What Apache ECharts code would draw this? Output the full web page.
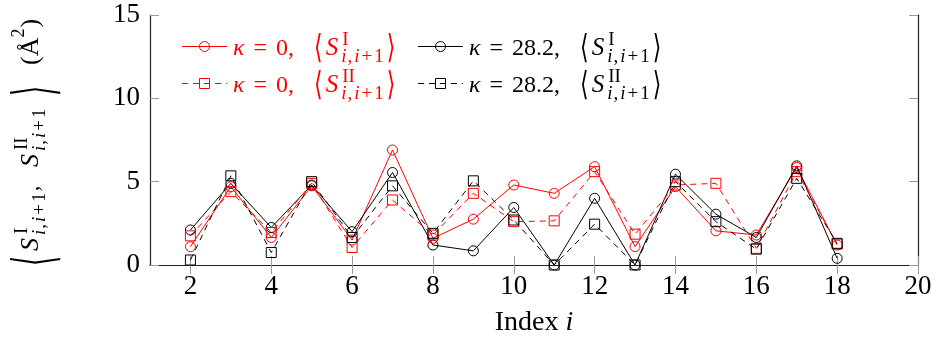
<!DOCTYPE html>
<html>
<head>
<meta charset="utf-8">
<script src="https://cdn.jsdelivr.net/npm/echarts@6/dist/echarts.min.js"></script>
<style>
  html, body { margin: 0; padding: 0; background: #fff; }
  #chart { width: 936px; height: 343px; }
</style>
</head>
<body>
<div id="chart"></div>
<script>
// Mean overlap values per site index i, for two coupling strengths
const indices = [2, 3, 4, 5, 6, 7, 8, 9, 10, 11, 12, 13, 14, 15, 16, 17, 18];
const k0_SI   = [1.1, 4.7, 1.65, 4.75, 1.5, 6.9, 1.6, 2.75, 4.8, 4.3, 5.9, 1.1, 4.7, 2.05, 1.8, 5.85, 1.2];
const k0_SII  = [1.75, 4.4, 1.95, 4.9, 1.05, 3.9, 1.8, 4.3, 2.6, 2.65, 5.6, 1.85, 4.8, 4.9, 1.0, 5.6, 1.25];
const k28_SI  = [2.1, 4.9, 2.25, 4.8, 2.0, 5.55, 1.2, 0.85, 3.45, 0.0, 4.0, 0.0, 5.45, 3.05, 1.65, 5.95, 0.4];
const k28_SII = [0.3, 5.35, 0.75, 5.0, 1.65, 4.75, 1.9, 5.05, 2.7, 0.0, 2.45, 0.0, 5.0, 2.6, 0.95, 5.2, 1.3];

const xTickValues = [2, 4, 6, 8, 10, 12, 14, 16, 18, 20];
const yTickValues = [0, 5, 10, 15];

const RED = '#ff0000';
const BLACK = '#000000';
const SERIF = 'Liberation Serif';
const BRACKET_FONT = 'DejaVu Serif';
const DASH = [6, 5];

// ---------- small math-text layout helper (text pieces, scripts, stretched brackets)
const mctx = document.createElement('canvas').getContext('2d');
function cssFont(size, italic, fam) { return (italic ? 'italic ' : 'normal ') + 'normal ' + size + 'px "' + fam + '"'; }
function measure(str, size, italic, fam) {
  mctx.font = cssFont(size, italic, fam);
  mctx.textBaseline = 'alphabetic';
  return mctx.measureText(str).width;
}
// distance from the 'middle' line to the alphabetic baseline
function middleToBaseline(size, italic, fam) {
  mctx.font = cssFont(size, italic, fam);
  mctx.textBaseline = 'alphabetic';
  const a = mctx.measureText('H').actualBoundingBoxAscent;
  mctx.textBaseline = 'middle';
  const b = mctx.measureText('H').actualBoundingBoxAscent;
  mctx.textBaseline = 'alphabetic';
  return a - b;
}
function glyphBox(ch, size, fam) {
  mctx.font = cssFont(size, false, fam);
  mctx.textBaseline = 'middle';
  const m = mctx.measureText(ch);
  mctx.textBaseline = 'alphabetic';
  return { top: -m.actualBoundingBoxAscent, bottom: m.actualBoundingBoxDescent, width: m.width };
}
function textEl(str, x, baseline, size, italic, fam, color) {
  return {
    type: 'text', silent: true, x: x, y: baseline - middleToBaseline(size, italic, fam),
    style: { text: str, font: cssFont(size, italic, fam), fill: color, align: 'left', verticalAlign: 'middle' }
  };
}
// tokens: {t, it, size} | {gap} | {at} | {br, h, c, size} | {sup:[...], sub:[...], supUp, subDown, kern}
function layoutMath(tokens, size, x0, baseline, color, out, scriptSize) {
  let x = x0;
  for (const tk of tokens) {
    if (tk.gap !== undefined) { x += tk.gap; continue; }
    if (tk.at !== undefined) { x = x0 + tk.at; continue; }
    if (tk.br) {
      const bs = tk.size || size;
      const box = glyphBox(tk.br, bs, BRACKET_FONT);
      const sy = tk.h / (box.bottom - box.top);
      const cLocal = (box.top + box.bottom) / 2;
      const centre = baseline + tk.c;
      out.push({
        type: 'text', silent: true, x: x, y: centre - sy * cLocal, scaleY: sy,
        style: { text: tk.br, font: cssFont(bs, false, BRACKET_FONT), fill: color,
                 align: 'left', verticalAlign: 'middle' }
      });
      x += box.width;
      continue;
    }
    if (tk.sup || tk.sub) {
      const ss = tk.ss || scriptSize || Math.round(size * 0.7);
      let wSup = 0, wSub = 0;
      if (tk.sup) wSup = layoutMath(tk.sup, ss, x, baseline - (tk.supUp || size * 0.42), color, out, ss) - x;
      if (tk.sub) wSub = layoutMath(tk.sub, ss, x + (tk.kern || 0), baseline + (tk.subDown || size * 0.28), color, out, ss) - x;
      x += Math.max(wSup, wSub);
      continue;
    }
    const sz = tk.size || size;
    out.push(textEl(tk.t, x, baseline, sz, !!tk.it, SERIF, color));
    x += measure(tk.t, sz, !!tk.it, SERIF);
  }
  return x;
}

const subIdx = [{ t: 'i', it: 1 }, { gap: 1 }, { t: ',', it: 0 }, { gap: 2 }, { t: 'i', it: 1 }, { gap: 2 },
                { t: '+', it: 0 }, { gap: 2 }, { t: '1', it: 0 }];

function legendLabel(kappa, roman) {
  return [
    { t: 'κ', it: 1 }, { gap: 9 }, { t: '=' }, { gap: 9 }, { t: kappa + ',' }, { gap: 20 },
    { br: '⟨', h: 30, c: -8, size: 22 }, { gap: 3 },
    { t: 'S', it: 1, size: 25 }, { gap: 4 }, { sup: [{ t: roman }], sub: subIdx, supUp: 10, subDown: 7, kern: -1 },
    { gap: 3 }, { br: '⟩', h: 30, c: -8, size: 22 }
  ];
}

const graphics = [];

// ---------- legend (two rows, two columns)
const legendEntries = [
  { x: 182, y: 55, color: RED,   symbol: 'circle', dashed: false, kappa: '0',    roman: 'I' },
  { x: 418, y: 55, color: BLACK, symbol: 'circle', dashed: false, kappa: '28.2', roman: 'I' },
  { x: 182, y: 92, color: RED,   symbol: 'rect',   dashed: true,  kappa: '0',    roman: 'II' },
  { x: 418, y: 92, color: BLACK, symbol: 'rect',   dashed: true,  kappa: '28.2', roman: 'II' }
];
for (const e of legendEntries) {
  const ly = e.y - 8.5;
  graphics.push({
    type: 'line', silent: true,
    shape: { x1: e.x, y1: ly, x2: e.x + 45, y2: ly },
    style: { stroke: e.color, lineWidth: 1, lineDash: e.dashed ? DASH : null }
  });
  if (e.symbol === 'circle') {
    graphics.push({ type: 'circle', silent: true, shape: { cx: e.x + 22.5, cy: ly, r: 5 },
      style: { fill: 'none', stroke: e.color, lineWidth: 1 } });
  } else {
    graphics.push({ type: 'rect', silent: true, shape: { x: e.x + 17.5, y: ly - 5, width: 10, height: 10 },
      style: { fill: 'none', stroke: e.color, lineWidth: 1 } });
  }
  layoutMath(legendLabel(e.kappa, e.roman), 24, e.x + 51, e.y, e.color, graphics, 19);
}

// ---------- rotated y-axis title, reading upwards along the left edge
const yTitle = [];
layoutMath([
  { br: '⟨', h: 52, c: -2, size: 26 },
  { at: 15 }, { t: 'S', it: 1, size: 26 }, { gap: 4 },
  { sup: [{ t: 'I' }], sub: subIdx, supUp: 11, subDown: 7, kern: -1 },
  { gap: 1 }, { t: ',' },
  { at: 99 }, { t: 'S', it: 1, size: 26 }, { gap: 4 },
  { sup: [{ t: 'II' }], sub: subIdx, supUp: 11, subDown: 7, kern: -1 },
  { at: 170 }, { br: '⟩', h: 52, c: -2, size: 26 },
  { at: 201 }, { t: '(', size: 26 }, { t: 'Å', size: 26 }, { sup: [{ t: '2' }], supUp: 14, ss: 18 }, { gap: 1 }, { t: ')', size: 26 }
], 24, 0, 0, BLACK, yTitle, 19);
graphics.push({ type: 'group', x: 38, y: 266, rotation: Math.PI / 2, children: yTitle, silent: true });

// ---------- series
function lineSeries(name, values, color, symbol, dashed) {
  return {
    name: name, type: 'line', clip: false,
    data: indices.map((x, i) => [x, values[i]]),
    symbol: symbol, symbolSize: 10,
    itemStyle: { color: 'rgba(0,0,0,0)', borderColor: color, borderWidth: 1 },
    lineStyle: { color: color, width: 1, type: dashed ? DASH : 'solid' },
    emphasis: { disabled: true }
  };
}

const labelFont = { fontFamily: SERIF, fontSize: 27, color: '#000' };
const tickStyle = { color: '#9a9a9a', width: 1 };
const frameLine = { show: true, lineStyle: { color: '#222', width: 1.2 } };

const option = {
  animation: false,
  backgroundColor: '#fff',
  grid: { left: 150, right: 18, top: 15, bottom: 78, containLabel: false },
  xAxis: [
    { type: 'value', min: 1, max: 20, position: 'bottom',
      axisLine: frameLine,
      axisTick: { show: true, inside: true, length: 9, customValues: xTickValues, lineStyle: tickStyle },
      axisLabel: Object.assign({ margin: 8, customValues: xTickValues }, labelFont),
      splitLine: { show: false },
      name: 'Index {i|i}', nameLocation: 'middle', nameGap: 44,
      nameTextStyle: { fontFamily: SERIF, fontSize: 28, color: '#000',
        rich: { i: { fontFamily: SERIF, fontSize: 28, fontStyle: 'italic', color: '#000' } } } },
    { type: 'value', min: 1, max: 20, position: 'top',
      axisLine: frameLine,
      axisTick: { show: true, inside: true, length: 9, customValues: xTickValues, lineStyle: tickStyle },
      axisLabel: { show: false }, splitLine: { show: false } }
  ],
  yAxis: [
    { type: 'value', min: 0, max: 15, interval: 5, position: 'left',
      axisLine: frameLine,
      axisTick: { show: true, inside: true, length: 9, lineStyle: tickStyle },
      axisLabel: Object.assign({ margin: 10, customValues: yTickValues }, labelFont),
      splitLine: { show: false } },
    { type: 'value', min: 0, max: 15, interval: 5, position: 'right',
      axisLine: frameLine,
      axisTick: { show: true, inside: true, length: 9, lineStyle: tickStyle },
      axisLabel: { show: false }, splitLine: { show: false } }
  ],
  series: [
    lineSeries('k0_SI', k0_SI, RED, 'circle', false),
    lineSeries('k28_SI', k28_SI, BLACK, 'circle', false),
    lineSeries('k0_SII', k0_SII, RED, 'rect', true),
    lineSeries('k28_SII', k28_SII, BLACK, 'rect', true)
  ],
  graphic: graphics
};

const chart = echarts.init(document.getElementById('chart'), null, { renderer: 'canvas' });
chart.setOption(option);
</script>
</body>
</html>
